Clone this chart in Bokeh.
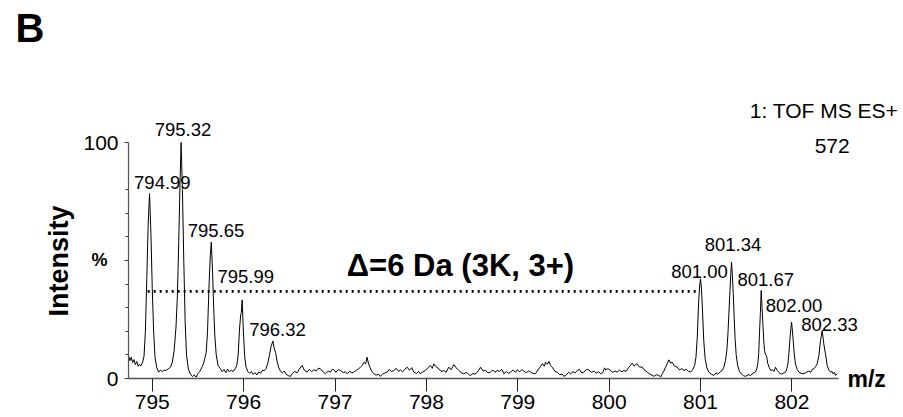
import math
from bokeh.plotting import figure
from bokeh.models import Range1d, FixedTicker, Label
from bokeh.embed import file_html
from bokeh.resources import INLINE

# ---------------- data ----------------
spectrum_mz = [
    794.740, 794.755, 794.770, 794.785, 794.800, 794.815, 794.830, 794.845, 794.860, 794.875,
    794.895, 794.910, 794.925, 794.940, 794.955, 794.970, 794.985, 795.000, 795.015, 795.030,
    795.050, 795.070, 795.090, 795.110, 795.130, 795.150, 795.175, 795.200, 795.220, 795.240,
    795.260, 795.275, 795.290, 795.305, 795.316, 795.330, 795.345, 795.360, 795.375, 795.395,
    795.420, 795.440, 795.460, 795.480, 795.500, 795.520, 795.540, 795.560, 795.575, 795.590,
    795.605, 795.620, 795.635, 795.646, 795.660, 795.672, 795.685, 795.700, 795.720, 795.745,
    795.765, 795.785, 795.805, 795.825, 795.845, 795.865, 795.885, 795.905, 795.925, 795.940,
    795.955, 795.968, 795.975, 795.984, 795.995, 796.010, 796.025, 796.045, 796.065, 796.085,
    796.105, 796.125, 796.145, 796.165, 796.185, 796.205, 796.225, 796.245, 796.265, 796.285,
    796.300, 796.320, 796.335, 796.350, 796.365, 796.385, 796.405, 796.425, 796.445, 796.465,
    796.490, 796.512, 796.535, 796.560, 796.585, 796.610, 796.640, 796.665, 796.695, 796.720,
    796.745, 796.768, 796.795, 796.820, 796.841, 796.870, 796.896, 796.925, 796.950, 796.970,
    796.987, 797.010, 797.035, 797.060, 797.090, 797.115, 797.133, 797.160, 797.185, 797.206,
    797.235, 797.260, 797.279, 797.300, 797.315, 797.335, 797.351, 797.365, 797.381, 797.400,
    797.424, 797.450, 797.475, 797.497, 797.520, 797.545, 797.570, 797.595, 797.620, 797.643,
    797.670, 797.695, 797.716, 797.740, 797.765, 797.789, 797.815, 797.840, 797.862, 797.890,
    797.915, 797.935, 797.960, 797.990, 798.015, 798.045, 798.065, 798.081, 798.105, 798.136,
    798.160, 798.191, 798.215, 798.245, 798.270, 798.300, 798.325, 798.355, 798.380, 798.409,
    798.440, 798.465, 798.482, 798.510, 798.535, 798.555, 798.575, 798.592, 798.620, 798.647,
    798.675, 798.702, 798.725, 798.750, 798.775, 798.800, 798.825, 798.848, 798.875, 798.900,
    798.921, 798.950, 798.975, 798.994, 799.020, 799.045, 799.067, 799.095, 799.120, 799.140,
    799.165, 799.194, 799.220, 799.249, 799.270, 799.290, 799.304, 799.325, 799.340, 799.360,
    799.377, 799.405, 799.432, 799.460, 799.485, 799.505, 799.530, 799.555, 799.578, 799.605,
    799.630, 799.650, 799.675, 799.700, 799.723, 799.750, 799.778, 799.805, 799.833, 799.860,
    799.885, 799.906, 799.930, 799.950, 799.961, 799.985, 800.015, 800.040, 800.065, 800.088,
    800.115, 800.140, 800.161, 800.185, 800.216, 800.235, 800.252, 800.275, 800.290, 800.307,
    800.330, 800.362, 800.385, 800.417, 800.445, 800.470, 800.490, 800.515, 800.544, 800.565,
    800.581, 800.600, 800.617, 800.635, 800.654, 800.672, 800.690, 800.715, 800.745, 800.770,
    800.795, 800.818, 800.845, 800.870, 800.891, 800.915, 800.935, 800.950, 800.965, 800.980,
    800.992, 801.000, 801.010, 801.020, 801.035, 801.050, 801.070, 801.091, 801.115, 801.145,
    801.170, 801.190, 801.215, 801.237, 801.255, 801.273, 801.288, 801.300, 801.312, 801.322,
    801.332, 801.339, 801.348, 801.358, 801.368, 801.378, 801.390, 801.405, 801.425, 801.445,
    801.470, 801.492, 801.520, 801.547, 801.575, 801.600, 801.615, 801.627, 801.637, 801.645,
    801.655, 801.664, 801.673, 801.682, 801.692, 801.700, 801.712, 801.722, 801.735, 801.750,
    801.768, 801.784, 801.805, 801.820, 801.840, 801.857, 801.875, 801.893, 801.915, 801.930,
    801.945, 801.957, 801.968, 801.978, 801.988, 801.996, 802.005, 802.014, 802.025, 802.039,
    802.058, 802.076, 802.100, 802.131, 802.155, 802.185, 802.205, 802.225, 802.240, 802.258,
    802.276, 802.295, 802.313, 802.322, 802.331, 802.340, 802.349, 802.358, 802.367, 802.386,
    802.405, 802.422, 802.440, 802.451, 802.465, 802.477, 802.495,
]
spectrum_intensity = [
    9.7, 7.5, 9.0, 6.8, 8.0, 5.9, 7.2, 5.2, 6.0, 5.3,
    6.9, 9.5, 20.0, 42.0, 65.0, 78.3, 62.0, 38.0, 20.0, 9.0,
    4.5, 2.7, 3.6, 2.9, 3.5, 3.4, 4.1, 4.8, 7.0, 12.0,
    22.0, 35.0, 58.0, 85.0, 100.0, 80.0, 50.0, 24.0, 10.0, 4.0,
    1.7, 0.8, 1.5, 0.6, 2.0, 3.0, 4.5, 6.2, 8.5, 11.0,
    20.0, 38.0, 52.0, 57.8, 45.0, 30.0, 18.0, 10.0, 5.5, 4.2,
    2.9, 3.8, 2.5, 4.0, 2.8, 3.6, 2.9, 4.0, 5.5, 10.0,
    21.0, 27.0, 28.0, 33.3, 22.0, 10.0, 5.0, 3.0, 2.2, 3.0,
    1.7, 2.5, 1.5, 2.8, 2.2, 3.5, 3.3, 4.2, 6.5, 10.5,
    13.5, 15.9, 12.5, 11.0, 7.5, 4.5, 3.0, 2.4, 3.2, 1.8,
    1.2, 0.9, 2.2, 3.0, 2.4, 4.0, 5.5, 3.5, 2.7, 3.9,
    2.9, 3.7, 3.2, 4.4, 4.1, 2.8, 2.0, 3.1, 2.7, 3.9,
    3.7, 2.6, 3.8, 3.4, 2.5, 2.9, 2.0, 3.0, 2.4, 2.7,
    3.5, 4.2, 4.8, 5.6, 6.9, 6.2, 9.0, 6.5, 4.8, 3.2,
    2.0, 1.4, 1.9, 0.9, 1.8, 2.3, 2.7, 3.9, 2.9, 3.4,
    4.3, 3.0, 3.7, 2.8, 3.9, 4.8, 3.5, 4.6, 2.7, 2.1,
    3.0, 2.0, 2.8, 3.4, 4.5, 5.5, 4.3, 6.2, 5.0, 4.1,
    3.0, 3.4, 2.6, 4.8, 3.7, 5.9, 4.6, 3.4, 2.5, 2.0,
    2.6, 1.6, 1.3, 2.1, 1.8, 2.7, 3.6, 4.8, 3.2, 3.4,
    2.4, 2.7, 3.6, 2.6, 3.4, 3.0, 3.9, 2.0, 2.9, 2.2,
    2.7, 3.6, 2.6, 3.7, 2.8, 3.8, 3.1, 2.4, 3.3, 2.7,
    2.2, 2.0, 3.6, 5.1, 6.3, 5.2, 6.9, 6.0, 7.3, 5.5,
    4.8, 3.1, 2.7, 1.6, 1.9, 0.9, 1.5, 2.6, 2.0, 2.9,
    2.4, 3.4, 3.9, 2.3, 2.7, 3.8, 3.7, 2.6, 3.1, 2.2,
    2.9, 2.0, 2.5, 4.5, 3.6, 4.2, 3.4, 2.6, 3.2, 2.7,
    3.6, 2.8, 3.4, 3.0, 4.8, 5.6, 6.5, 5.2, 6.0, 6.2,
    4.9, 4.8, 3.6, 2.7, 1.9, 1.4, 0.9, 1.6, 1.3, 0.7,
    2.0, 3.2, 4.8, 6.2, 7.9, 6.5, 6.9, 5.2, 4.8, 3.6,
    4.2, 3.4, 3.9, 3.0, 2.7, 3.8, 5.5, 9.0, 18.0, 33.1,
    40.0, 42.2, 38.0, 30.0, 16.1, 8.5, 4.5, 2.7, 1.9, 1.3,
    2.4, 1.8, 2.8, 3.4, 4.8, 7.6, 12.0, 19.0, 29.0, 37.3,
    45.0, 49.3, 44.0, 36.0, 26.0, 17.0, 10.0, 5.8, 3.0, 2.0,
    1.2, 0.9, 1.6, 1.3, 2.2, 2.7, 4.0, 6.2, 11.0, 18.9,
    28.0, 37.3, 30.0, 23.2, 16.0, 11.9, 10.0, 9.7, 6.5, 4.8,
    3.4, 3.7, 3.0, 4.8, 3.4, 2.7, 1.9, 2.0, 2.4, 2.7,
    4.2, 6.5, 11.0, 16.5, 21.0, 23.9, 20.5, 16.1, 10.5, 6.2,
    3.8, 2.7, 2.2, 2.0, 2.6, 3.1, 2.6, 4.0, 4.1, 5.0,
    6.2, 9.7, 16.1, 18.0, 20.3, 17.5, 14.7, 12.5, 10.5, 5.5,
    3.5, 2.7, 3.0, 2.0, 2.6, 1.3, 2.0,
]

peak_mz = [794.99, 795.32, 795.65, 795.99, 796.32, 801.00, 801.34, 801.67, 802.00, 802.33]
peak_intensity = [78.3, 100.0, 57.8, 33.3, 15.9, 42.2, 49.3, 37.3, 23.9, 20.3]
peak_labels = ["794.99", "795.32", "795.65", "795.99", "796.32",
               "801.00", "801.34", "801.67", "802.00", "802.33"]

delta_mz = [794.95, 800.96]
delta_level = [36.9, 36.9]
delta_text = "\u0394=6 Da (3K, 3+)"

x_ticks = [795, 796, 797, 798, 799, 800, 801, 802]
y_ticks = [0, 50, 100]
y_minor_ticks = [10, 20, 30, 40, 60, 70, 80]
y_tick_labels = {0: "0", 50: "", 100: "100"}

panel_letter = "B"
instrument_text = "1: TOF MS ES+"
max_count_text = "572"
x_title = "m/z"
y_title = "Intensity"
y_unit = "%"

# ---------------- layout / styles ----------------
FONT = "Liberation Sans"
W, H = 900, 416
AX_X0, AX_X1 = 794.74, 802.51     # extent of the m/z axis line
AX_Y0, AX_Y1 = 0, 100             # extent of the intensity axis line
PX_PER_MZ = 91.38                 # horizontal scale (px per m/z unit)
PX_PER_PCT = 2.36                 # vertical scale (px per % unit)
AXIS_LEFT_PX, AXIS_BASE_PX = 128, 378
BASELINE_FIX = 0.39               # renderer's baseline shift, in em

x_start = AX_X0 - AXIS_LEFT_PX / PX_PER_MZ
x_end = x_start + W / PX_PER_MZ
y_end = AXIS_BASE_PX / PX_PER_PCT
y_start = y_end - H / PX_PER_PCT

def px_x(px):
    return x_start + px / PX_PER_MZ

def px_y(py):
    return y_end - py / PX_PER_PCT

PEAK_FONT = 18.5
peak_label_offsets = [(11, 4), (1.5, 5.3), (4.3, 4.3), (3, 16), (4.6, 4.5),
                      (-1, 0), (1.4, 10), (4, 3.3), (2, 9), (7.4, -1.6)]

p = figure(width=W, height=H, output_backend="svg", toolbar_location=None,
           x_range=Range1d(x_start, x_end), y_range=Range1d(y_start, y_end),
           min_border=0, min_border_left=0, min_border_right=0,
           min_border_top=0, min_border_bottom=0)
p.title.visible = False
p.outline_line_color = None
p.xgrid.visible = False
p.ygrid.visible = False
p.background_fill_color = "white"
p.border_fill_color = "white"

p.line(spectrum_mz, spectrum_intensity, line_color="black", line_width=1)
p.line(delta_mz, delta_level, line_color="black", line_width=2.6, line_dash="2 4")

xa = p.xaxis[0]
xa.fixed_location = AX_Y0
xa.bounds = (AX_X0, AX_X1)
xa.ticker = FixedTicker(ticks=x_ticks)
xa.major_tick_out = 13
xa.major_tick_in = 0
xa.minor_tick_out = 0
xa.minor_tick_in = 0
xa.major_label_standoff = 3
xa.major_label_text_font = FONT
xa.major_label_text_font_size = "21px"
xa.major_label_text_color = "black"
xa.axis_line_color = "#555555"
xa.axis_line_width = 1.3
xa.major_tick_line_color = "#222222"

ya = p.yaxis[0]
ya.fixed_location = AX_X0
ya.bounds = (AX_Y0, AX_Y1)
ya.ticker = FixedTicker(ticks=y_ticks, minor_ticks=y_minor_ticks)
ya.major_label_overrides = y_tick_labels
ya.major_tick_out = 4
ya.major_tick_in = 0
ya.minor_tick_out = 3
ya.minor_tick_in = 0
ya.major_label_standoff = 6
ya.major_label_text_font = FONT
ya.major_label_text_font_size = "21px"
ya.major_label_text_color = "black"
ya.axis_line_color = "#555555"
ya.axis_line_width = 1.2
ya.major_tick_line_color = "#333333"
ya.minor_tick_line_color = "#333333"

for mz, inten, lab, (dx, dy) in zip(peak_mz, peak_intensity, peak_labels, peak_label_offsets):
    p.add_layout(Label(x=mz, y=inten, text=lab, x_offset=dx,
                       y_offset=dy + BASELINE_FIX * PEAK_FONT,
                       text_align="center", text_baseline="alphabetic",
                       text_font=FONT, text_font_size=f"{PEAK_FONT}px", text_color="black"))

def add_text(px, py, text, size, bold=False, align="center", baseline="alphabetic", angle=0,
             fix=True):
    if fix:
        py -= BASELINE_FIX * size
    p.add_layout(Label(x=px_x(px), y=px_y(py), text=text, text_align=align,
                       text_baseline=baseline, text_font=FONT,
                       text_font_style="bold" if bold else "normal",
                       text_font_size=f"{size}px", text_color="black", angle=angle))

add_text(460, 277, delta_text, 31, bold=True)
add_text(15, 43, panel_letter, 40, bold=True, align="left")
add_text(823.5, 118.3, instrument_text, 21)
add_text(831.7, 153.3, max_count_text, 21)
add_text(847, 387, x_title, 23, bold=True, align="left")
add_text(99, 267, y_unit, 18, bold=True)
add_text(58, 260.5, y_title, 27, bold=True, baseline="middle", angle=math.pi / 2, fix=False)

open("out.html", "w").write(file_html(p, INLINE))
